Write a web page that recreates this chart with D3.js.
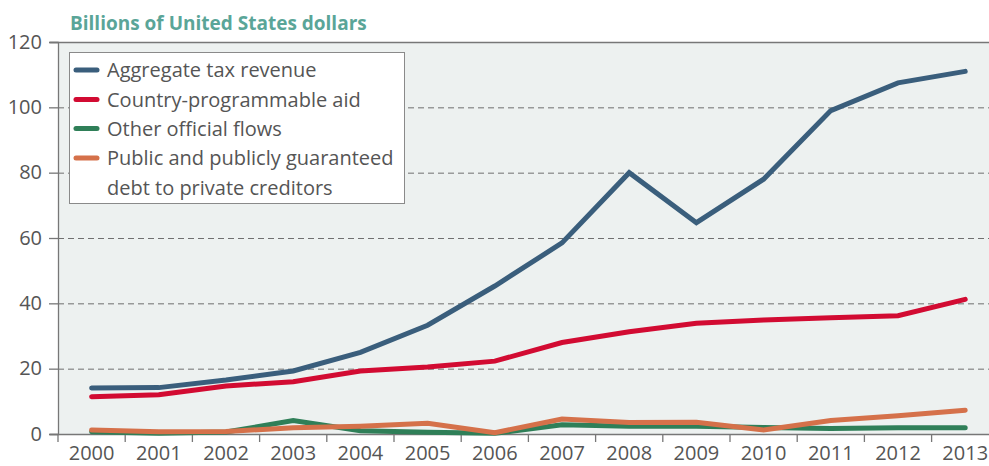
<!DOCTYPE html>
<html><head><meta charset="utf-8">
<script src="https://cdn.jsdelivr.net/npm/d3@7"></script>
<style>body{margin:0;background:#fff}svg{display:block}</style>
</head><body><svg id="c" width="989" height="466"></svg>
<script>
const years = ["2000","2001","2002","2003","2004","2005","2006","2007","2008","2009","2010","2011","2012","2013"];
const taxRevenue = [14.1,14.2,16.5,19.3,25.0,33.3,45.3,58.5,80.0,64.7,78.0,99.0,107.5,111.0];
const cpAid = [11.4,12.0,14.7,16.0,19.3,20.5,22.3,28.0,31.3,33.9,34.9,35.6,36.2,41.2];
const otherFlows = [0.7,0.2,0.6,4.1,1.0,0.5,0.2,2.8,2.4,2.4,2.0,1.7,1.9,1.9];
const pppgDebt = [1.2,0.7,0.8,1.9,2.4,3.3,0.4,4.6,3.5,3.6,1.2,4.1,5.6,7.3];
const yTicks = [0,20,40,60,80,100,120];
const seriesNames = ["Aggregate tax revenue","Country-programmable aid","Other official flows","Public and publicly guaranteed|debt to private creditors"];
const seriesColors = ["#3a5e7c","#d20b32","#2f7f58","#d5714a"];
const seriesData = [taxRevenue, cpAid, otherFlows, pppgDebt];

(function(){
const svg = d3.select("#c");
const W = 989, H = 466;
const mLeft = 58, mTop = 42, mBottom = 434;
const x = d3.scaleBand().domain(years).range([mLeft, mLeft + 14*67.2]);
const y = d3.scaleLinear().domain([0,120]).range([mBottom, mTop]);
const font = "'Open Sans', sans-serif";
const txt = "#555";

svg.append("rect").attr("x", mLeft).attr("y", mTop).attr("width", W-mLeft).attr("height", mBottom-mTop).attr("fill", "#edf1f0");

svg.append("g").selectAll("line").data(yTicks.filter(d => d>0 && d<120)).join("line")
  .attr("x1", mLeft).attr("x2", W).attr("y1", d => y(d)+0.5).attr("y2", d => y(d)+0.5)
  .attr("stroke", "#6f6f6f").attr("stroke-width", 1).attr("stroke-dasharray", "6,4");

svg.append("line").attr("x1", 50).attr("x2", W).attr("y1", mTop+0.5).attr("y2", mTop+0.5).attr("stroke", "#777").attr("stroke-width", 1.3);

const yAxis = d3.axisLeft(y).tickValues(yTicks).tickSize(9).tickPadding(6);
const gy = svg.append("g").attr("transform", `translate(${mLeft},0)`).call(yAxis);
gy.select(".domain").attr("stroke", "#777").attr("stroke-width", 1.3);
gy.selectAll(".tick line").attr("stroke", "#777").attr("stroke-width", 1.3);
gy.selectAll(".tick text").attr("font-family", font).attr("font-size", 20).attr("fill", txt).attr("dy", "0.3em").attr("x", -16);

const xAxis = d3.axisBottom(x).tickSize(0).tickPadding(12);
const gx = svg.append("g").attr("transform", `translate(0,${mBottom})`).call(xAxis);
gx.select(".domain").remove();
gx.selectAll(".tick text").attr("font-family", font).attr("font-size", 20).attr("fill", txt).attr("dy", "0.72em");
svg.append("line").attr("x1", 50).attr("x2", W).attr("y1", mBottom+0.5).attr("y2", mBottom+0.5).attr("stroke", "#777").attr("stroke-width", 1.3);
const bounds = years.map(d => x(d)).concat([x(years[13]) + x.bandwidth()]);
svg.append("g").selectAll("line").data(bounds).join("line")
  .attr("x1", d => d).attr("x2", d => d).attr("y1", mBottom).attr("y2", mBottom+8)
  .attr("stroke", "#777").attr("stroke-width", 1.3);

const line = d3.line().x((d,i) => x(years[i]) + x.bandwidth()/2).y(d => y(d));
[2,3,1,0].forEach(k => {
  svg.append("path").datum(seriesData[k]).attr("d", line)
    .attr("fill", "none").attr("stroke", seriesColors[k]).attr("stroke-width", 5)
    .attr("stroke-linecap", "round").attr("stroke-linejoin", "miter");
});

const lg = svg.append("g");
lg.append("rect").attr("x", 69.5).attr("y", 52.5).attr("width", 335).attr("height", 151)
  .attr("fill", "#ffffff").attr("stroke", "#8a8a8a").attr("stroke-width", 1);
const rowY = [70, 99.5, 128.5, 158];
seriesNames.forEach((n,i) => {
  lg.append("line").attr("x1", 76).attr("x2", 97).attr("y1", rowY[i]).attr("y2", rowY[i])
    .attr("stroke", seriesColors[i]).attr("stroke-width", 5).attr("stroke-linecap", "round");
  n.split("|").forEach((p,j) => {
    lg.append("text").attr("x", 107).attr("y", rowY[i] + j*29.5).attr("dy", "0.36em")
      .attr("font-family", font).attr("font-size", 20).attr("fill", txt).text(p);
  });
});

svg.append("text").attr("x", 70).attr("y", 29.5).attr("font-family", font).attr("font-weight", "bold")
  .attr("font-size", 19).attr("fill", "#5aa598").text("Billions of United States dollars");
})();
</script></body></html>
